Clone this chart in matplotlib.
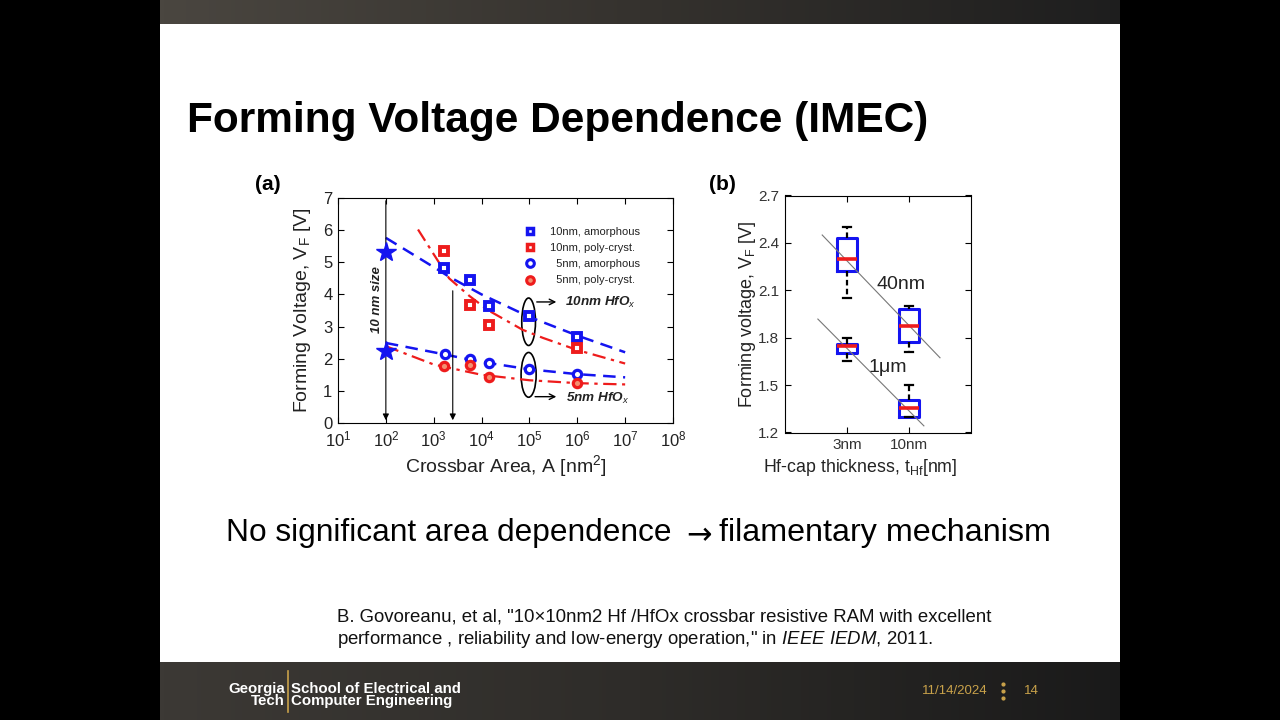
import matplotlib.pyplot as plt
import numpy as np
from matplotlib.patches import Rectangle, Ellipse
from matplotlib.lines import Line2D
from matplotlib.colors import LinearSegmentedColormap

plt.rcParams['font.family'] = ['Liberation Sans', 'DejaVu Sans']
plt.rcParams['mathtext.fontset'] = 'custom'
plt.rcParams['mathtext.rm'] = 'Liberation Sans'
plt.rcParams['mathtext.it'] = 'Liberation Sans:italic'
plt.rcParams['mathtext.bf'] = 'Liberation Sans:bold'

# ---- panel (a) data: forming voltage vs crossbar area ----
area_sq_am = [1630, 5600, 14000, 1.0e5, 1.0e6]
vf_sq_am = [4.82, 4.44, 3.63, 3.34, 2.67]
area_sq_pc = [1630, 5600, 14000, 1.0e6]
vf_sq_pc = [5.34, 3.66, 3.06, 2.32]
area_ci_am = [1700, 5600, 14000, 1.0e5, 1.0e6]
vf_ci_am = [2.15, 1.98, 1.86, 1.69, 1.54]
area_ci_pc = [1650, 5600, 14000, 1.0e6]
vf_ci_pc = [1.76, 1.82, 1.42, 1.24]
area_star = [100, 100]
vf_star = [5.32, 2.24]

# fit curves
fit_up_blue_x = [1e2, 1e3, 2.1e3, 1e4, 1e5, 1e6, 1e7]
fit_up_blue_y = [5.76, 4.85, 4.55, 4.0, 3.3, 2.72, 2.2]
fit_up_red_x = [470, 1e3, 2.1e3, 5.6e3, 1.4e4, 7.2e4, 1.9e5, 1e6, 1e7]
fit_up_red_y = [6.02, 5.25, 4.5, 3.95, 3.5, 2.9, 2.65, 2.27, 1.85]
fit_lo_blue_x = [1e2, 1e3, 1e4, 1e5, 1e6, 1e7]
fit_lo_blue_y = [2.49, 2.2, 1.9, 1.67, 1.52, 1.42]
fit_lo_red_x = [1e2, 1e3, 1e4, 1e5, 1e6, 3e6, 1e7]
fit_lo_red_y = [2.39, 1.82, 1.5, 1.33, 1.24, 1.22, 1.2]

legend_labels = ['10nm, amorphous', '10nm, poly-cryst.', '  5nm, amorphous', '  5nm, poly-cryst.']

# ---- panel (b) data: box plots vs Hf-cap thickness ----
cap_labels = ['3nm', '10nm']
pos_b = [1, 1, 2, 2]
b_med = [2.30, 1.747, 1.876, 1.356]
b_q1 = [2.22, 1.705, 1.775, 1.30]
b_q3 = [2.43, 1.76, 1.98, 1.405]
b_lo = [2.05, 1.655, 1.71, 1.30]
b_hi = [2.50, 1.80, 2.00, 1.50]
guide40_x = [0.6, 2.5]
guide40_y = [2.45, 1.673]
guide1_x = [0.53, 2.24]
guide1_y = [1.918, 1.242]

BLUE = '#1414f0'
RED = '#ee1c1c'
TXT = '#222222'
GOLD = '#c9a24a'

fig = plt.figure(figsize=(12.8, 7.2), dpi=100)
fig.patch.set_facecolor('black')

# background in pixel coordinates
bg = fig.add_axes([0, 0, 1, 1], zorder=0)
bg.axis('off')
bg.add_patch(Rectangle((160, 24), 960, 638, facecolor='white', edgecolor='none'))
grad = np.linspace(0, 1, 256).reshape(1, -1)
bg.imshow(grad, extent=(160, 1120, 24, 0), aspect='auto', zorder=1,
          cmap=LinearSegmentedColormap.from_list('top', ['#4a4640', '#35322e', '#1e1e1e']))
bg.imshow(grad, extent=(160, 1120, 720, 662), aspect='auto', zorder=1,
          cmap=LinearSegmentedColormap.from_list('bot', ['#3c3935', '#2e2c29', '#1a1a1a']))
bg.set_xlim(0, 1280)
bg.set_ylim(720, 0)

bg.text(187, 121, 'Forming Voltage Dependence (IMEC)', fontsize=30.5, fontweight='bold',
        ha='left', va='center', color='black')
bg.text(268, 184, '(a)', fontsize=15, fontweight='bold', ha='center', va='center')
bg.text(722, 184, '(b)', fontsize=15, fontweight='bold', ha='center', va='center')
bg.text(672, 533, 'No significant area dependence', fontsize=22.8, ha='right', va='center', color='black')
bg.text(699, 536, '\u2192', fontsize=22, family='DejaVu Sans', ha='center', va='center', color='black')
bg.text(719, 533, 'filamentary mechanism', fontsize=23.2, ha='left', va='center', color='black')
bg.text(337, 617, 'B. Govoreanu, et al, "10\u00d710nm2 Hf /HfOx crossbar resistive RAM with excellent',
        fontsize=13.4, ha='left', va='center', color='#111')
bg.text(337, 639, 'performance , reliability and low-energy operation," in $\\mathit{IEEE\\ IEDM}$, 2011.',
        fontsize=13.4, ha='left', va='center', color='#111')

# footer
bg.text(285, 689, 'Georgia', fontsize=10.8, fontweight='bold', color='white', ha='right', va='center')
bg.text(285, 701, 'Tech', fontsize=10.8, fontweight='bold', color='white', ha='right', va='center')
bg.plot([288, 288], [671, 712], color=GOLD, lw=1.2)
bg.text(291, 689, 'School of Electrical and', fontsize=10.8, fontweight='bold', color='white',
        ha='left', va='center')
bg.text(291, 701, 'Computer Engineering', fontsize=10.8, fontweight='bold', color='white',
        ha='left', va='center')
bg.text(955, 691, '11/14/2024', fontsize=9.5, color=GOLD, ha='center', va='center')
bg.plot([1003, 1003, 1003], [684, 691, 698], ls='none', marker='o', ms=2, color=GOLD)
bg.text(1031, 691, '14', fontsize=9.5, color=GOLD, ha='center', va='center')

# ---------------- panel (a) ----------------
ax = fig.add_axes([338 / 1280, 1 - 423 / 720, 335 / 1280, 225 / 720], zorder=2)
ax.set_xscale('log')
ax.set_xlim(10, 1e8)
ax.set_ylim(0, 7)

ax.plot(fit_up_blue_x, fit_up_blue_y, color=BLUE, lw=1.8, ls=(0, (5, 3)))
ax.plot(fit_lo_blue_x, fit_lo_blue_y, color=BLUE, lw=1.8, ls=(0, (5, 3)))
ax.plot(fit_up_red_x, fit_up_red_y, color=RED, lw=1.6, ls=(0, (6, 2.5, 1.5, 2.5)))
ax.plot(fit_lo_red_x, fit_lo_red_y, color=RED, lw=1.6, ls=(0, (6, 2.5, 1.5, 2.5)))

ax.plot(area_sq_am, vf_sq_am, ls='none', marker='s', ms=5.2, mfc='white', mec=BLUE, mew=2.8, zorder=4)
ax.plot(area_sq_pc, vf_sq_pc, ls='none', marker='s', ms=5.2, mfc='white', mec=RED, mew=2.8, zorder=4)
ax.plot(area_ci_am, vf_ci_am, ls='none', marker='o', ms=6, mfc='white', mec=BLUE, mew=2.3, zorder=4)
ax.plot(area_ci_pc, vf_ci_pc, ls='none', marker='o', ms=6, mfc='#f49070', mec=RED, mew=2.3, zorder=4)
ax.plot(area_star, vf_star, ls='none', marker='*', ms=15, color=BLUE, zorder=5)

ax.annotate('', xy=(100, 0), xytext=(100, 7),
            arrowprops=dict(arrowstyle='-|>', color='k', lw=0.8, mutation_scale=9))
ax.annotate('', xy=(2500, 0), xytext=(2500, 4.2),
            arrowprops=dict(arrowstyle='-|>', color='k', lw=0.8, mutation_scale=9))
ax.text(10 ** 1.82, 3.83, '10 nm size', rotation=90, fontsize=9.5, fontweight='bold', style='italic',
        ha='center', va='center', color=TXT)

ax.add_patch(Ellipse((0.569, 0.450), 0.041, 0.211, transform=ax.transAxes, fill=False, ec='k', lw=1.2))
ax.add_patch(Ellipse((0.569, 0.214), 0.045, 0.199, transform=ax.transAxes, fill=False, ec='k', lw=1.2))
ax.annotate('', xy=(0.66, 0.538), xytext=(0.585, 0.538), xycoords='axes fraction',
            arrowprops=dict(arrowstyle='->', color='k', lw=1.0))
ax.annotate('', xy=(0.66, 0.117), xytext=(0.58, 0.117), xycoords='axes fraction',
            arrowprops=dict(arrowstyle='->', color='k', lw=1.0))
ax.text(0.677, 0.538, '10nm HfO$_x$', transform=ax.transAxes, fontsize=9.7, fontweight='bold',
        style='italic', ha='left', va='center', color=TXT)
ax.text(0.68, 0.107, '5nm HfO$_x$', transform=ax.transAxes, fontsize=9.7, fontweight='bold',
        style='italic', ha='left', va='center', color=TXT)

handles = [
    Line2D([], [], ls='none', marker='s', ms=4.5, mfc='white', mec=BLUE, mew=2.5),
    Line2D([], [], ls='none', marker='s', ms=4.5, mfc='white', mec=RED, mew=2.5),
    Line2D([], [], ls='none', marker='o', ms=5.5, mfc='white', mec=BLUE, mew=2.2),
    Line2D([], [], ls='none', marker='o', ms=5.5, mfc='#f49070', mec=RED, mew=2.2),
]
leg = ax.legend(handles, legend_labels, loc='upper left', bbox_to_anchor=(0.533, 0.905),
                frameon=False, fontsize=8, handlelength=1.0, handletextpad=1.3, labelspacing=0.55,
                borderpad=0.2)
for t in leg.get_texts():
    t.set_color(TXT)

ax.tick_params(which='both', direction='in', top=True, right=True, labelsize=12,
               labelcolor=TXT)
ax.tick_params(axis='x', pad=5)
ax.tick_params(axis='y', pad=4)
ax.tick_params(which='major', length=4)
ax.tick_params(which='minor', length=2)
ax.set_xticks([10.0 ** k for k in range(1, 9)])
ax.set_yticks(range(0, 8))
ax.set_xlabel('Crossbar Area, A [nm$^2$]', fontsize=14, color=TXT)
ax.set_ylabel('Forming Voltage, V$_\\mathrm{F}$ [V]', fontsize=14, color=TXT)
ax.xaxis.set_label_coords(0.5, -0.135)
ax.yaxis.set_label_coords(-0.075, 0.5)
for s in ax.spines.values():
    s.set_linewidth(0.8)

# ---------------- panel (b) ----------------
bx = fig.add_axes([785 / 1280, 1 - 432.5 / 720, 186 / 1280, 237 / 720], zorder=2)
stats = [dict(med=m, q1=a, q3=b, whislo=lo, whishi=hi, fliers=[])
         for m, a, b, lo, hi in zip(b_med, b_q1, b_q3, b_lo, b_hi)]
bx.bxp(stats, positions=pos_b, widths=0.32, capwidths=0.13, showfliers=False,
       boxprops=dict(color=BLUE, lw=2.2),
       medianprops=dict(color=RED, lw=2.6),
       whiskerprops=dict(color='black', lw=1.6, ls=(0, (2.5, 1.5))),
       capprops=dict(color='black', lw=1.6),
       manage_ticks=False)
bx.plot(guide40_x, guide40_y, color='#777777', lw=0.8)
bx.plot(guide1_x, guide1_y, color='#777777', lw=0.8)
bx.text(1.87, 2.134, '40nm', fontsize=14, color=TXT, ha='center', va='center')
bx.text(1.66, 1.61, '1\u03bcm', fontsize=14, color=TXT, ha='center', va='center')

bx.set_xlim(0, 3)
bx.set_ylim(1.2, 2.7)
bx.set_xticks([1, 2])
bx.set_xticklabels(cap_labels)
bx.set_yticks([1.2, 1.5, 1.8, 2.1, 2.4, 2.7])
bx.set_yticklabels(['1.2', '1.5', '1.8', '2.1', '2.4', '2.7'])
bx.tick_params(direction='in', top=True, right=True, labelsize=11, labelcolor='#333', length=4, pad=4)
bx.set_xlabel('Hf-cap thickness, t$_{\\mathrm{Hf}}$[nm]', fontsize=12.8, color=TXT)
bx.set_ylabel('Forming voltage, V$_\\mathrm{F}$ [V]', fontsize=13, color=TXT)
bx.xaxis.set_label_coords(0.403, -0.105)
bx.yaxis.set_label_coords(-0.145, 0.5)
for s in bx.spines.values():
    s.set_linewidth(0.8)

fig.savefig('out.png', dpi=100, facecolor='black')
